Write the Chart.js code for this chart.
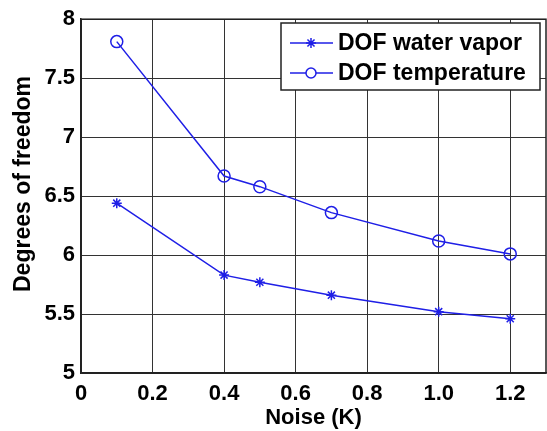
<!DOCTYPE html>
<html lang="en">
  <head>
    <meta charset="UTF-8" />
    <script src="https://cdn.jsdelivr.net/npm/chart.js"></script>
    <title>DOF vs noise</title>
    <style>
      * {
        padding: 0;
        margin: 0;
        box-sizing: border-box;
      }
      body {
        background-color: #fff;
      }
      .chart-box {
        width: 547px;
        height: 431px;
      }
    </style>
  </head>
  <body>
    <div class="chart-box">
      <canvas id="myChart" width="547" height="431"></canvas>
    </div>
    <script>
      const noise = [0.1, 0.4, 0.5, 0.7, 1.0, 1.2];
      const dofVapor = [6.44, 5.83, 5.77, 5.66, 5.52, 5.46];
      const dofTemp = [7.81, 6.67, 6.58, 6.36, 6.12, 6.01];
      const xTicks = [0, 0.2, 0.4, 0.6, 0.8, 1, 1.2];
      const yTicks = [5, 5.5, 6, 6.5, 7, 7.5, 8];
      const seriesNames = ['DOF water vapor', 'DOF temperature'];
      const yTitle = 'Degrees of freedom';

      const blue = '#1f1fe6';
      const fontFam = '"Liberation Sans", Arial, sans-serif';

      // box round the plot area, like matlab's axes frame
      const frame = {
        id: 'frame',
        beforeDatasetsDraw(chart) {
          const a = chart.chartArea;
          const ctx = chart.ctx;
          ctx.save();
          ctx.strokeStyle = '#222';
          ctx.lineWidth = 1.5;
          ctx.strokeRect(a.left, a.top, a.right - a.left, a.bottom - a.top);
          ctx.restore();
        }
      };

      // matlab style legend box + y title (drawn by hand so it sits where matlab puts it)
      const boxLegend = {
        id: 'boxLegend',
        afterDraw(chart) {
          const ctx = chart.ctx;
          const x0 = 281, y0 = 23, w = 259, h = 67;
          ctx.save();
          ctx.fillStyle = '#fff';
          ctx.fillRect(x0, y0, w, h);
          ctx.strokeStyle = '#222';
          ctx.lineWidth = 1.5;
          ctx.strokeRect(x0, y0, w, h);
          const rows = [43, 73];
          chart.data.datasets.forEach((ds, i) => {
            const y = rows[i];
            ctx.strokeStyle = blue;
            ctx.lineWidth = 1.5;
            ctx.beginPath();
            ctx.moveTo(290, y);
            ctx.lineTo(333, y);
            ctx.stroke();
            ctx.fillStyle = ds.pointStyle === 'circle' ? '#fff' : blue;
            Chart.helpers.drawPoint(ctx, {
              pointStyle: ds.pointStyle,
              radius: 5,
              borderWidth: 1.5
            }, 311, y);
            ctx.fillStyle = '#000';
            ctx.font = 'bold 23px ' + fontFam;
            ctx.textBaseline = 'middle';
            ctx.textAlign = 'left';
            ctx.fillText(seriesNames[i], 338, y + 1);
          });

          ctx.translate(24, 184);
          ctx.rotate(-Math.PI / 2);
          ctx.fillStyle = '#000';
          ctx.font = 'bold 23px ' + fontFam;
          ctx.textAlign = 'center';
          ctx.textBaseline = 'middle';
          ctx.fillText(yTitle, 0, 0);
          ctx.restore();
        }
      };

      const data = {
        datasets: [
          {
            label: seriesNames[0],
            data: noise.map((x, i) => ({ x: x, y: dofVapor[i] })),
            borderColor: blue,
            backgroundColor: blue,
            borderWidth: 1.5,
            pointStyle: 'star',
            pointRadius: 5,
            pointBorderWidth: 1.5,
          },
          {
            label: seriesNames[1],
            data: noise.map((x, i) => ({ x: x, y: dofTemp[i] })),
            borderColor: blue,
            backgroundColor: 'rgba(0,0,0,0)',
            borderWidth: 1.5,
            pointStyle: 'circle',
            pointRadius: 6,
            pointBorderWidth: 1.5,
          },
        ],
      };

      const config = {
        type: 'line',
        data: data,
        plugins: [frame, boxLegend],
        options: {
          responsive: false,
          animation: false,
          layout: { autoPadding: false, padding: { left: 0, right: 1, top: 15, bottom: 0 } },
          plugins: {
            legend: { display: false },
            tooltip: { enabled: false },
          },
          scales: {
            x: {
              type: 'linear',
              min: 0,
              max: 1.3,
              afterBuildTicks: (axis) => {
                axis.ticks = xTicks.map((v) => ({ value: v }));
              },
              afterFit: (axis) => {
                axis.height = 58;
              },
              grid: { color: '#333', lineWidth: 1, drawTicks: false },
              border: { color: '#222', width: 1.5 },
              ticks: {
                color: '#000',
                padding: 8,
                maxRotation: 0,
                font: { family: fontFam, size: 22, weight: 'bold' },
              },
              title: {
                display: true,
                text: 'Noise (K)',
                color: '#000',
                padding: { top: 0, bottom: 0 },
                font: { family: fontFam, size: 22, weight: 'bold' },
              },
            },
            y: {
              min: 5,
              max: 8,
              afterBuildTicks: (axis) => {
                axis.ticks = yTicks.map((v) => ({ value: v }));
              },
              afterFit: (axis) => {
                axis.width = 81;
              },
              grid: { color: '#333', lineWidth: 1, drawTicks: false },
              border: { color: '#222', width: 1.5 },
              ticks: {
                color: '#000',
                padding: 6,
                callback: (v) => String(v),
                font: { family: fontFam, size: 22, weight: 'bold' },
              },
            },
          },
        },
      };

      const myChart = new Chart(document.getElementById('myChart'), config);
    </script>
  </body>
</html>
